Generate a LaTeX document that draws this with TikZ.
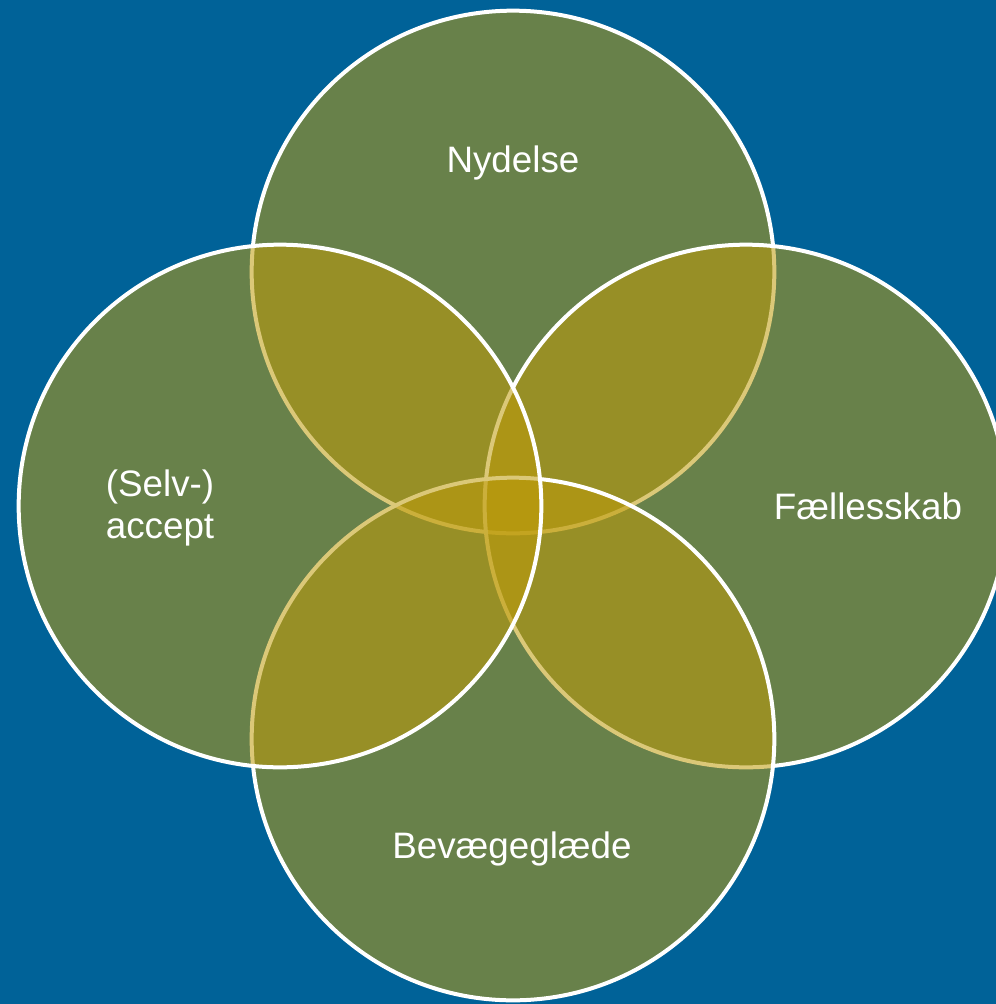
\documentclass[tikz,border=0pt]{standalone}
\usepackage{fontspec}
\setmainfont{Liberation Sans}
\definecolor{bgblue}{RGB}{0,98,152}
\definecolor{venngold}{RGB}{190,155,10}
\begin{document}
\begin{tikzpicture}[x=0.75pt,y=-0.75pt,
  venn/.style={circle, inner sep=0pt, minimum size=392pt,
    fill=venngold, fill opacity=0.55, draw=white, draw opacity=1,
    line width=3pt},
  lbl/.style={text=white, font=\fontsize{27.6pt}{31pt}\selectfont,
    align=center, inner sep=0pt}]
  \useasboundingbox (0,0) rectangle (996,1004);
  \clip (0,0) rectangle (996,1004);
  \fill[bgblue] (0,0) rectangle (996,1004);
  % four overlapping circles, later ones laid over earlier ones
  \node[venn] (top)    at (513,272) {};
  \node[venn] (right)  at (746,506) {};
  \node[venn] (bottom) at (513,739) {};
  \node[venn] (left)   at (280,506) {};
  % circle labels
  \node[lbl] (tnydelse) at (513,163) {Nydelse};
  \node[lbl] (taccept)  at (160,508) {(Selv-)\\accept};
  \node[lbl] (tfaelles) at (868,506) {Fællesskab};
  \node[lbl] (tbevaeg)  at (512,849) {Bevægeglæde};
\end{tikzpicture}
\end{document}
